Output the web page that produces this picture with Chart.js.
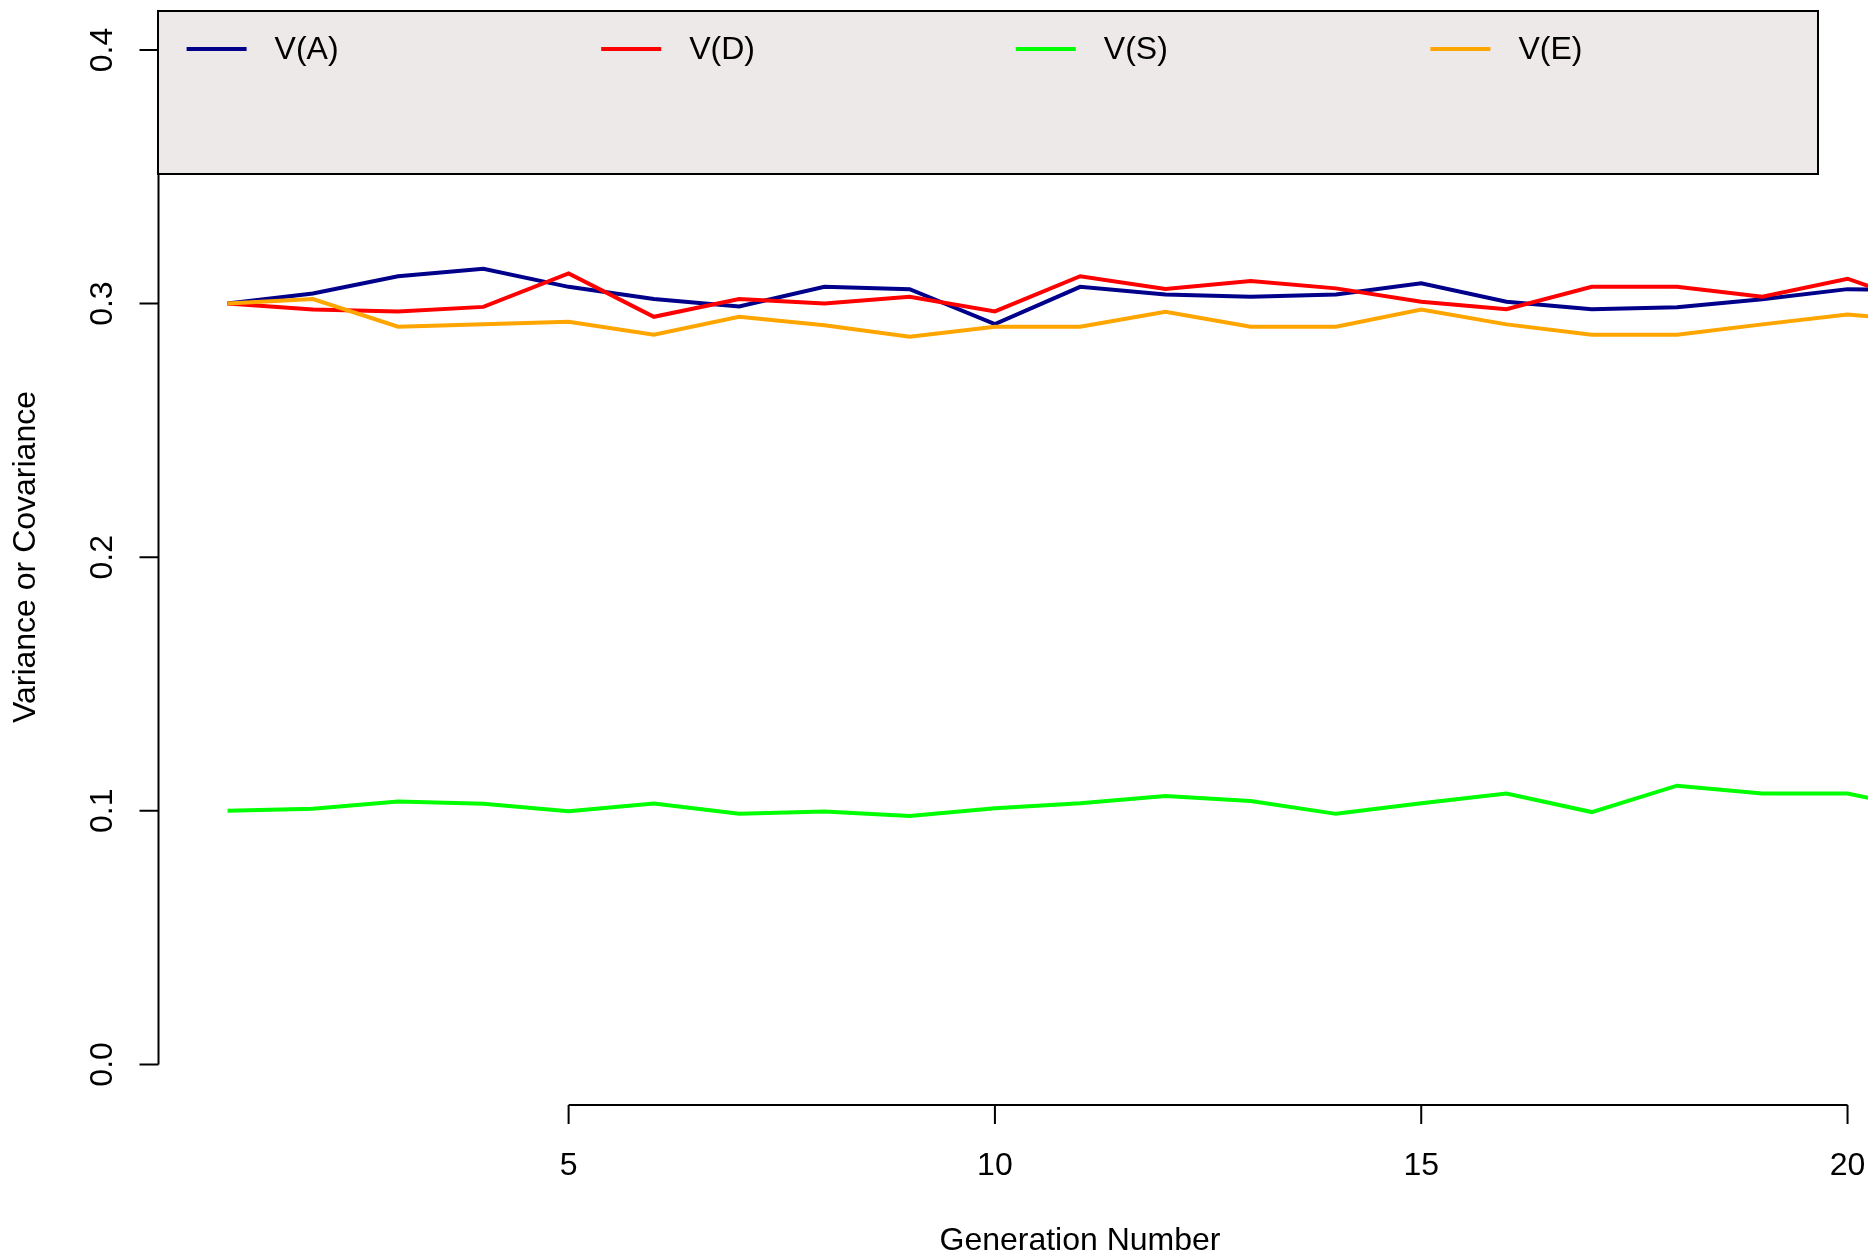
<!DOCTYPE html>
<html>
<head>
<meta charset="utf-8">
<script src="https://cdn.jsdelivr.net/npm/chart.js@4.4.1/dist/chart.umd.min.js"></script>
<style>
  html, body { margin: 0; padding: 0; background: #ffffff; }
  canvas { display: block; }
</style>
</head>
<body>
<canvas id="myChart" width="1868" height="1256"></canvas>
<script>
const generations = [1, 2, 3, 4, 5, 6, 7, 8, 9, 10, 11, 12, 13, 14, 15, 16, 17, 18, 19, 20, 21];

const varA = [0.3000, 0.3040, 0.3108, 0.3137, 0.3066, 0.3018, 0.2989, 0.3066, 0.3057, 0.2919, 0.3066,
              0.3036, 0.3027, 0.3036, 0.3080, 0.3007, 0.2978, 0.2986, 0.3017, 0.3057, 0.3050];
const varD = [0.3000, 0.2977, 0.2969, 0.2987, 0.3119, 0.2948, 0.3018, 0.3000, 0.3027, 0.2969, 0.3108,
              0.3058, 0.3089, 0.3060, 0.3007, 0.2978, 0.3066, 0.3066, 0.3027, 0.3098, 0.2980];
const varS = [0.1000, 0.1008, 0.1037, 0.1028, 0.0998, 0.1029, 0.0988, 0.0997, 0.0980, 0.1010, 0.1030,
              0.1058, 0.1039, 0.0988, 0.1030, 0.1068, 0.0995, 0.1099, 0.1068, 0.1068, 0.1000];
const varE = [0.3000, 0.3018, 0.2909, 0.2919, 0.2928, 0.2877, 0.2948, 0.2915, 0.2869, 0.2909, 0.2909,
              0.2968, 0.2909, 0.2909, 0.2977, 0.2918, 0.2877, 0.2877, 0.2918, 0.2957, 0.2930];

const seriesLabels = ["V(A)", "V(D)", "V(S)", "V(E)"];
const seriesColors = ["#00008B", "#FF0000", "#00FF00", "#FFA500"];

const xTicks = [5, 10, 15, 20];
const yTicks = [0.0, 0.1, 0.2, 0.3, 0.4];

const gFont = '32px "Liberation Sans", Arial, sans-serif';

function makeDataset(values, index) {
    return {
        label: seriesLabels[index],
        data: values.map((v, i) => ({x: generations[i], y: v})),
        borderColor: seriesColors[index],
        borderWidth: 4,
        pointRadius: 0,
        tension: 0,
        fill: false,
        // later series are painted on top, as in the original
        order: 3 - index
    };
}

const rAxesPlugin = {
    id: 'rAxes',
    afterDraw(chart) {
        const ctx = chart.ctx;
        const xs = chart.scales.x;
        const ys = chart.scales.y;
        const area = chart.chartArea;
        const axisY = 1105;
        const tickLen = 19;

        ctx.save();
        ctx.strokeStyle = '#000000';
        ctx.fillStyle = '#000000';
        ctx.lineWidth = 2;
        ctx.font = gFont;

        // x axis: line from first to last tick
        ctx.beginPath();
        ctx.moveTo(xs.getPixelForValue(xTicks[0]), axisY);
        ctx.lineTo(xs.getPixelForValue(xTicks[xTicks.length - 1]), axisY);
        xTicks.forEach((t) => {
            const px = xs.getPixelForValue(t);
            ctx.moveTo(px, axisY);
            ctx.lineTo(px, axisY + tickLen);
        });
        ctx.stroke();
        ctx.textAlign = 'center';
        ctx.textBaseline = 'middle';
        xTicks.forEach((t) => {
            ctx.fillText(String(t), xs.getPixelForValue(t), 1166);
        });

        // y axis
        const axisX = area.left;
        ctx.beginPath();
        ctx.moveTo(axisX, ys.getPixelForValue(yTicks[0]));
        ctx.lineTo(axisX, ys.getPixelForValue(yTicks[yTicks.length - 1]));
        yTicks.forEach((t) => {
            const py = ys.getPixelForValue(t);
            ctx.moveTo(axisX, py);
            ctx.lineTo(axisX - tickLen, py);
        });
        ctx.stroke();
        yTicks.forEach((t) => {
            ctx.save();
            ctx.translate(103, ys.getPixelForValue(t));
            ctx.rotate(-Math.PI / 2);
            ctx.fillText(t.toFixed(1), 0, 0);
            ctx.restore();
        });

        // axis titles
        ctx.fillText('Generation Number', 1080, 1241);
        ctx.save();
        ctx.translate(26, 557);
        ctx.rotate(-Math.PI / 2);
        ctx.fillText('Variance or Covariance', 0, 0);
        ctx.restore();

        // legend box
        ctx.fillStyle = '#EEE9E9';
        ctx.fillRect(158, 11, 1660, 163);
        ctx.strokeRect(158, 11, 1660, 163);
        ctx.textAlign = 'left';
        chart.data.datasets.forEach((ds, i) => {
            const x0 = 186.6 + i * 414.6;
            ctx.strokeStyle = ds.borderColor;
            ctx.lineWidth = 4;
            ctx.beginPath();
            ctx.moveTo(x0, 49);
            ctx.lineTo(x0 + 60, 49);
            ctx.stroke();
            ctx.fillStyle = '#000000';
            ctx.fillText(ds.label, x0 + 88, 50);
        });
        ctx.restore();
    }
};

const gConfig = {
    type: 'line',
    data: {
        datasets: [varA, varD, varS, varE].map(makeDataset)
    },
    options: {
        responsive: false,
        animation: false,
        devicePixelRatio: 1,
        layout: {
            padding: {left: 158.5, top: 9.4, right: 0, bottom: 151}
        },
        plugins: {
            legend: {display: false},
            tooltip: {enabled: false},
            title: {display: false}
        },
        scales: {
            x: {type: 'linear', min: 0.19, max: 20.24, display: false},
            y: {type: 'linear', min: -0.016, max: 0.416, display: false}
        }
    },
    plugins: [rAxesPlugin]
};

const gChart = new Chart(document.getElementById('myChart'), gConfig);
</script>
</body>
</html>
